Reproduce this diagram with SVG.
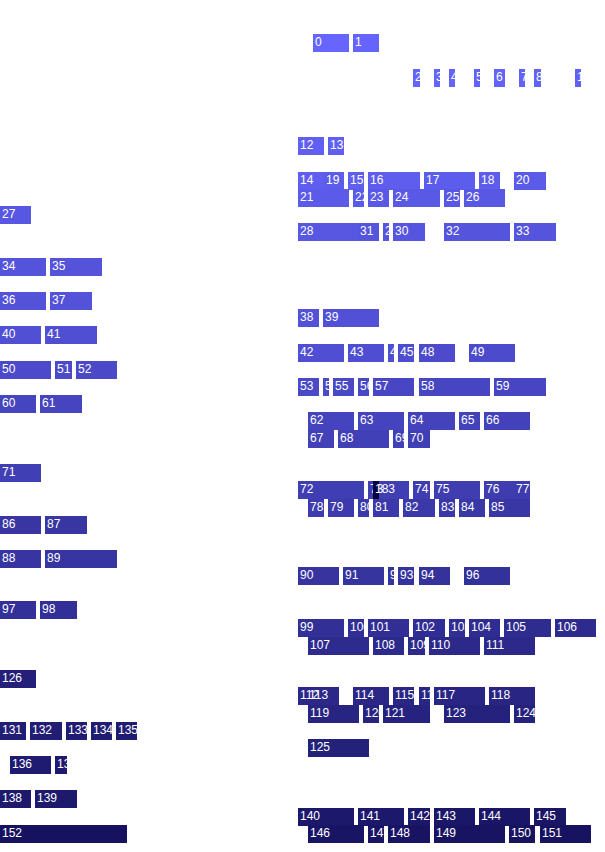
<svg xmlns="http://www.w3.org/2000/svg" width="605" height="852" viewBox="0 0 605 852">
<style>
text{font-family:"Liberation Sans",Arial,sans-serif;font-size:12px;fill:#fff}
rect{height:18px}
</style>
<rect x="0" y="0" width="605" height="852" fill="#fff" style="height:852px"/>
<g id="nodes">
<g id="n0"><rect x="313" y="34" width="36" height="18" fill="rgb(102,102,255)"/><text x="315" y="46">0</text></g>
<g id="n1"><rect x="353" y="34" width="26" height="18" fill="rgb(101,101,254)"/><text x="355" y="46">1</text></g>
<g id="n2"><rect x="413" y="69" width="7" height="18" fill="rgb(101,101,253)"/><text x="415" y="81">2</text></g>
<g id="n3"><rect x="434" y="69" width="6" height="18" fill="rgb(100,100,252)"/><text x="436" y="81">3</text></g>
<g id="n4"><rect x="449" y="69" width="6" height="18" fill="rgb(100,100,251)"/><text x="451" y="81">4</text></g>
<g id="n5"><rect x="474" y="69" width="6" height="18" fill="rgb(99,99,250)"/><text x="476" y="81">5</text></g>
<g id="n6"><rect x="494" y="69" width="11" height="18" fill="rgb(99,99,249)"/><text x="496" y="81">6</text></g>
<g id="n7"><rect x="519" y="69" width="6" height="18" fill="rgb(98,98,248)"/><text x="521" y="81">7</text></g>
<g id="n8"><rect x="534" y="69" width="7" height="18" fill="rgb(98,98,247)"/><text x="536" y="81">8</text></g>
<g id="n10"><rect x="575" y="69" width="6" height="18" fill="rgb(97,96,244)"/><text x="577" y="81">10</text></g>
<g id="n12"><rect x="298" y="137" width="26" height="18" fill="rgb(96,95,242)"/><text x="300" y="149">12</text></g>
<g id="n13"><rect x="328" y="137" width="16" height="18" fill="rgb(95,95,241)"/><text x="330" y="149">13</text></g>
<g id="n14"><rect x="298" y="172" width="46" height="18" fill="rgb(95,94,240)"/><text x="300" y="184">14</text></g>
<g id="n15"><rect x="348" y="172" width="16" height="18" fill="rgb(94,94,239)"/><text x="350" y="184">15</text></g>
<g id="n16"><rect x="368" y="172" width="52" height="18" fill="rgb(94,93,238)"/><text x="370" y="184">16</text></g>
<g id="n17"><rect x="424" y="172" width="51" height="18" fill="rgb(93,93,237)"/><text x="426" y="184">17</text></g>
<g id="n18"><rect x="479" y="172" width="21" height="18" fill="rgb(93,92,236)"/><text x="481" y="184">18</text></g>
<g id="n19"><rect x="324" y="172" width="20" height="18" fill="rgb(92,92,235)"/><text x="326" y="184">19</text></g>
<g id="n20"><rect x="514" y="172" width="32" height="18" fill="rgb(91,91,234)"/><text x="516" y="184">20</text></g>
<g id="n21"><rect x="298" y="189" width="51" height="18" fill="rgb(91,90,233)"/><text x="300" y="201">21</text></g>
<g id="n22"><rect x="353" y="189" width="11" height="18" fill="rgb(90,90,232)"/><text x="355" y="201">22</text></g>
<g id="n23"><rect x="368" y="189" width="21" height="18" fill="rgb(90,89,231)"/><text x="370" y="201">23</text></g>
<g id="n24"><rect x="393" y="189" width="47" height="18" fill="rgb(89,89,230)"/><text x="395" y="201">24</text></g>
<g id="n25"><rect x="444" y="189" width="16" height="18" fill="rgb(89,88,229)"/><text x="446" y="201">25</text></g>
<g id="n26"><rect x="464" y="189" width="41" height="18" fill="rgb(88,88,228)"/><text x="466" y="201">26</text></g>
<g id="n27"><rect x="0" y="206" width="31" height="18" fill="rgb(88,87,227)"/><text x="2" y="218">27</text></g>
<g id="n28"><rect x="298" y="223" width="81" height="18" fill="rgb(87,87,226)"/><text x="300" y="235">28</text></g>
<g id="n29"><rect x="383" y="223" width="6" height="18" fill="rgb(87,86,224)"/><text x="385" y="235">29</text></g>
<g id="n30"><rect x="393" y="223" width="32" height="18" fill="rgb(86,85,223)"/><text x="395" y="235">30</text></g>
<g id="n31"><rect x="358" y="223" width="21" height="18" fill="rgb(86,85,222)"/><text x="360" y="235">31</text></g>
<g id="n32"><rect x="444" y="223" width="66" height="18" fill="rgb(85,84,221)"/><text x="446" y="235">32</text></g>
<g id="n33"><rect x="514" y="223" width="42" height="18" fill="rgb(85,84,220)"/><text x="516" y="235">33</text></g>
<g id="n34"><rect x="0" y="258" width="46" height="18" fill="rgb(84,83,219)"/><text x="2" y="270">34</text></g>
<g id="n35"><rect x="50" y="258" width="52" height="18" fill="rgb(84,83,218)"/><text x="52" y="270">35</text></g>
<g id="n36"><rect x="0" y="292" width="46" height="18" fill="rgb(83,82,217)"/><text x="2" y="304">36</text></g>
<g id="n37"><rect x="50" y="292" width="42" height="18" fill="rgb(83,82,216)"/><text x="52" y="304">37</text></g>
<g id="n38"><rect x="298" y="309" width="21" height="18" fill="rgb(82,81,215)"/><text x="300" y="321">38</text></g>
<g id="n39"><rect x="323" y="309" width="56" height="18" fill="rgb(81,80,214)"/><text x="325" y="321">39</text></g>
<g id="n40"><rect x="0" y="326" width="41" height="18" fill="rgb(81,80,213)"/><text x="2" y="338">40</text></g>
<g id="n41"><rect x="45" y="326" width="52" height="18" fill="rgb(80,79,212)"/><text x="47" y="338">41</text></g>
<g id="n42"><rect x="298" y="344" width="46" height="18" fill="rgb(80,79,211)"/><text x="300" y="356">42</text></g>
<g id="n43"><rect x="348" y="344" width="36" height="18" fill="rgb(79,78,210)"/><text x="350" y="356">43</text></g>
<g id="n44"><rect x="388" y="344" width="6" height="18" fill="rgb(79,78,209)"/><text x="390" y="356">44</text></g>
<g id="n45"><rect x="398" y="344" width="16" height="18" fill="rgb(78,77,208)"/><text x="400" y="356">45</text></g>
<g id="n48"><rect x="419" y="344" width="36" height="18" fill="rgb(77,75,204)"/><text x="421" y="356">48</text></g>
<g id="n49"><rect x="469" y="344" width="46" height="18" fill="rgb(76,75,203)"/><text x="471" y="356">49</text></g>
<g id="n50"><rect x="0" y="361" width="51" height="18" fill="rgb(76,74,202)"/><text x="2" y="373">50</text></g>
<g id="n51"><rect x="55" y="361" width="17" height="18" fill="rgb(75,74,201)"/><text x="57" y="373">51</text></g>
<g id="n52"><rect x="76" y="361" width="41" height="18" fill="rgb(75,73,200)"/><text x="78" y="373">52</text></g>
<g id="n53"><rect x="298" y="378" width="21" height="18" fill="rgb(74,73,199)"/><text x="300" y="390">53</text></g>
<g id="n54"><rect x="323" y="378" width="6" height="18" fill="rgb(74,72,198)"/><text x="325" y="390">54</text></g>
<g id="n55"><rect x="333" y="378" width="21" height="18" fill="rgb(73,72,197)"/><text x="335" y="390">55</text></g>
<g id="n56"><rect x="358" y="378" width="11" height="18" fill="rgb(73,71,196)"/><text x="360" y="390">56</text></g>
<g id="n57"><rect x="373" y="378" width="41" height="18" fill="rgb(72,70,195)"/><text x="375" y="390">57</text></g>
<g id="n58"><rect x="419" y="378" width="71" height="18" fill="rgb(71,70,194)"/><text x="421" y="390">58</text></g>
<g id="n59"><rect x="494" y="378" width="52" height="18" fill="rgb(71,69,193)"/><text x="496" y="390">59</text></g>
<g id="n60"><rect x="0" y="395" width="36" height="18" fill="rgb(70,69,192)"/><text x="2" y="407">60</text></g>
<g id="n61"><rect x="40" y="395" width="42" height="18" fill="rgb(70,68,191)"/><text x="42" y="407">61</text></g>
<g id="n62"><rect x="308" y="412" width="46" height="18" fill="rgb(69,68,190)"/><text x="310" y="424">62</text></g>
<g id="n63"><rect x="358" y="412" width="46" height="18" fill="rgb(69,67,189)"/><text x="360" y="424">63</text></g>
<g id="n64"><rect x="408" y="412" width="47" height="18" fill="rgb(68,67,188)"/><text x="410" y="424">64</text></g>
<g id="n65"><rect x="459" y="412" width="21" height="18" fill="rgb(68,66,187)"/><text x="461" y="424">65</text></g>
<g id="n66"><rect x="484" y="412" width="46" height="18" fill="rgb(67,66,186)"/><text x="486" y="424">66</text></g>
<g id="n67"><rect x="308" y="430" width="26" height="18" fill="rgb(67,65,184)"/><text x="310" y="442">67</text></g>
<g id="n68"><rect x="338" y="430" width="51" height="18" fill="rgb(66,64,183)"/><text x="340" y="442">68</text></g>
<g id="n69"><rect x="393" y="430" width="11" height="18" fill="rgb(66,64,182)"/><text x="395" y="442">69</text></g>
<g id="n70"><rect x="408" y="430" width="22" height="18" fill="rgb(65,63,181)"/><text x="410" y="442">70</text></g>
<g id="n71"><rect x="0" y="464" width="41" height="18" fill="rgb(65,63,180)"/><text x="2" y="476">71</text></g>
<g id="n72"><rect x="298" y="481" width="66" height="18" fill="rgb(64,62,179)"/><text x="300" y="493">72</text></g>
<g id="n73"><rect x="368" y="481" width="41" height="18" fill="rgb(64,62,178)"/><text x="370" y="493">73</text></g>
<g id="n74"><rect x="413" y="481" width="17" height="18" fill="rgb(63,61,177)"/><text x="415" y="493">74</text></g>
<g id="n75"><rect x="434" y="481" width="46" height="18" fill="rgb(63,61,176)"/><text x="436" y="493">75</text></g>
<g id="n76"><rect x="484" y="481" width="46" height="18" fill="rgb(62,60,175)"/><text x="486" y="493">76</text></g>
<g id="n77"><rect x="514" y="481" width="16" height="18" fill="rgb(61,59,174)"/><text x="516" y="493">77</text></g>
<g id="n78"><rect x="308" y="499" width="16" height="18" fill="rgb(61,59,173)"/><text x="310" y="511">78</text></g>
<g id="n79"><rect x="328" y="499" width="26" height="18" fill="rgb(60,58,172)"/><text x="330" y="511">79</text></g>
<g id="n80"><rect x="358" y="499" width="11" height="18" fill="rgb(60,58,171)"/><text x="360" y="511">80</text></g>
<g id="n81"><rect x="373" y="499" width="26" height="18" fill="rgb(59,57,170)"/><text x="375" y="511">81</text></g>
<g id="n82"><rect x="403" y="499" width="32" height="18" fill="rgb(59,57,169)"/><text x="405" y="511">82</text></g>
<g id="n83"><rect x="439" y="499" width="16" height="18" fill="rgb(58,56,168)"/><text x="441" y="511">83</text></g>
<g id="n84"><rect x="459" y="499" width="26" height="18" fill="rgb(58,56,167)"/><text x="461" y="511">84</text></g>
<g id="n85"><rect x="489" y="499" width="41" height="18" fill="rgb(57,55,166)"/><text x="491" y="511">85</text></g>
<g id="n86"><rect x="0" y="516" width="41" height="18" fill="rgb(57,54,164)"/><text x="2" y="528">86</text></g>
<g id="n87"><rect x="45" y="516" width="42" height="18" fill="rgb(56,54,163)"/><text x="47" y="528">87</text></g>
<g id="n88"><rect x="0" y="550" width="41" height="18" fill="rgb(56,53,162)"/><text x="2" y="562">88</text></g>
<g id="n89"><rect x="45" y="550" width="72" height="18" fill="rgb(55,53,161)"/><text x="47" y="562">89</text></g>
<g id="n90"><rect x="298" y="567" width="41" height="18" fill="rgb(55,52,160)"/><text x="300" y="579">90</text></g>
<g id="n91"><rect x="343" y="567" width="41" height="18" fill="rgb(54,52,159)"/><text x="345" y="579">91</text></g>
<g id="n92"><rect x="388" y="567" width="6" height="18" fill="rgb(54,51,158)"/><text x="390" y="579">92</text></g>
<g id="n93"><rect x="398" y="567" width="16" height="18" fill="rgb(53,51,157)"/><text x="400" y="579">93</text></g>
<g id="n94"><rect x="419" y="567" width="31" height="18" fill="rgb(53,50,156)"/><text x="421" y="579">94</text></g>
<g id="n96"><rect x="464" y="567" width="46" height="18" fill="rgb(51,49,154)"/><text x="466" y="579">96</text></g>
<g id="n97"><rect x="0" y="601" width="36" height="18" fill="rgb(51,48,153)"/><text x="2" y="613">97</text></g>
<g id="n98"><rect x="40" y="601" width="37" height="18" fill="rgb(50,48,152)"/><text x="42" y="613">98</text></g>
<g id="n99"><rect x="298" y="619" width="46" height="18" fill="rgb(50,47,151)"/><text x="300" y="631">99</text></g>
<g id="n100"><rect x="348" y="619" width="16" height="18" fill="rgb(49,47,150)"/><text x="350" y="631">100</text></g>
<g id="n101"><rect x="368" y="619" width="41" height="18" fill="rgb(49,46,149)"/><text x="370" y="631">101</text></g>
<g id="n102"><rect x="413" y="619" width="32" height="18" fill="rgb(48,46,148)"/><text x="415" y="631">102</text></g>
<g id="n103"><rect x="449" y="619" width="16" height="18" fill="rgb(48,45,147)"/><text x="451" y="631">103</text></g>
<g id="n104"><rect x="469" y="619" width="31" height="18" fill="rgb(47,45,146)"/><text x="471" y="631">104</text></g>
<g id="n105"><rect x="504" y="619" width="47" height="18" fill="rgb(47,44,144)"/><text x="506" y="631">105</text></g>
<g id="n106"><rect x="555" y="619" width="41" height="18" fill="rgb(46,43,143)"/><text x="557" y="631">106</text></g>
<g id="n107"><rect x="308" y="637" width="61" height="18" fill="rgb(46,43,142)"/><text x="310" y="649">107</text></g>
<g id="n108"><rect x="373" y="637" width="31" height="18" fill="rgb(45,42,141)"/><text x="375" y="649">108</text></g>
<g id="n109"><rect x="408" y="637" width="17" height="18" fill="rgb(45,42,140)"/><text x="410" y="649">109</text></g>
<g id="n110"><rect x="429" y="637" width="51" height="18" fill="rgb(44,41,139)"/><text x="431" y="649">110</text></g>
<g id="n111"><rect x="484" y="637" width="51" height="18" fill="rgb(44,41,138)"/><text x="486" y="649">111</text></g>
<g id="n126"><rect x="0" y="670" width="36" height="18" fill="rgb(36,32,122)"/><text x="2" y="682">126</text></g>
<g id="n113"><rect x="307" y="687" width="32" height="18" fill="rgb(43,40,136)"/><text x="309" y="699">113</text></g>
<g id="n112"><rect x="298" y="687" width="9" height="18" fill="rgb(43,40,137)"/><text x="300" y="699">112</text></g>
<g id="n114"><rect x="353" y="687" width="36" height="18" fill="rgb(42,39,135)"/><text x="355" y="699">114</text></g>
<g id="n115"><rect x="393" y="687" width="21" height="18" fill="rgb(41,38,134)"/><text x="395" y="699">115</text></g>
<g id="n116"><rect x="419" y="687" width="11" height="18" fill="rgb(41,38,133)"/><text x="421" y="699">116</text></g>
<g id="n117"><rect x="434" y="687" width="51" height="18" fill="rgb(40,37,132)"/><text x="436" y="699">117</text></g>
<g id="n118"><rect x="489" y="687" width="46" height="18" fill="rgb(40,37,131)"/><text x="491" y="699">118</text></g>
<g id="n119"><rect x="308" y="705" width="51" height="18" fill="rgb(39,36,130)"/><text x="310" y="717">119</text></g>
<g id="n120"><rect x="363" y="705" width="16" height="18" fill="rgb(39,36,129)"/><text x="365" y="717">120</text></g>
<g id="n121"><rect x="383" y="705" width="47" height="18" fill="rgb(38,35,128)"/><text x="385" y="717">121</text></g>
<g id="n123"><rect x="444" y="705" width="66" height="18" fill="rgb(37,34,126)"/><text x="446" y="717">123</text></g>
<g id="n124"><rect x="514" y="705" width="21" height="18" fill="rgb(37,33,124)"/><text x="516" y="717">124</text></g>
<g id="n125"><rect x="308" y="739" width="61" height="18" fill="rgb(36,33,123)"/><text x="310" y="751">125</text></g>
<g id="n131"><rect x="0" y="722" width="26" height="18" fill="rgb(33,30,117)"/><text x="2" y="734">131</text></g>
<g id="n132"><rect x="30" y="722" width="32" height="18" fill="rgb(33,29,116)"/><text x="32" y="734">132</text></g>
<g id="n133"><rect x="66" y="722" width="21" height="18" fill="rgb(32,28,115)"/><text x="68" y="734">133</text></g>
<g id="n134"><rect x="91" y="722" width="21" height="18" fill="rgb(31,28,114)"/><text x="93" y="734">134</text></g>
<g id="n135"><rect x="116" y="722" width="21" height="18" fill="rgb(31,27,113)"/><text x="118" y="734">135</text></g>
<g id="n136"><rect x="10" y="756" width="41" height="18" fill="rgb(30,27,112)"/><text x="12" y="768">136</text></g>
<g id="n137"><rect x="55" y="756" width="12" height="18" fill="rgb(30,26,111)"/><text x="57" y="768">137</text></g>
<g id="n138"><rect x="0" y="790" width="31" height="18" fill="rgb(29,26,110)"/><text x="2" y="802">138</text></g>
<g id="n139"><rect x="35" y="790" width="42" height="18" fill="rgb(29,25,109)"/><text x="37" y="802">139</text></g>
<g id="n140"><rect x="298" y="808" width="56" height="18" fill="rgb(28,25,108)"/><text x="300" y="820">140</text></g>
<g id="n141"><rect x="358" y="808" width="46" height="18" fill="rgb(28,24,107)"/><text x="360" y="820">141</text></g>
<g id="n142"><rect x="408" y="808" width="22" height="18" fill="rgb(27,24,106)"/><text x="410" y="820">142</text></g>
<g id="n143"><rect x="434" y="808" width="41" height="18" fill="rgb(27,23,104)"/><text x="436" y="820">143</text></g>
<g id="n144"><rect x="479" y="808" width="51" height="18" fill="rgb(26,22,103)"/><text x="481" y="820">144</text></g>
<g id="n145"><rect x="534" y="808" width="32" height="18" fill="rgb(26,22,102)"/><text x="536" y="820">145</text></g>
<g id="n146"><rect x="308" y="825" width="56" height="18" fill="rgb(25,21,101)"/><text x="310" y="837">146</text></g>
<g id="n147"><rect x="368" y="825" width="16" height="18" fill="rgb(25,21,100)"/><text x="370" y="837">147</text></g>
<g id="n148"><rect x="388" y="825" width="42" height="18" fill="rgb(24,20,99)"/><text x="390" y="837">148</text></g>
<g id="n149"><rect x="434" y="825" width="71" height="18" fill="rgb(24,20,98)"/><text x="436" y="837">149</text></g>
<g id="n150"><rect x="509" y="825" width="26" height="18" fill="rgb(23,19,97)"/><text x="511" y="837">150</text></g>
<g id="n151"><rect x="540" y="825" width="51" height="18" fill="rgb(23,19,96)"/><text x="542" y="837">151</text></g>
<g id="n152"><rect x="0" y="825" width="127" height="18" fill="rgb(22,18,95)"/><text x="2" y="837">152</text></g>
<g id="n183"><rect x="373" y="481" width="6" height="18" fill="rgb(6,1,62)"/><text x="375" y="493">183</text></g>
</g>
<g id="connectors"/>
</svg>
